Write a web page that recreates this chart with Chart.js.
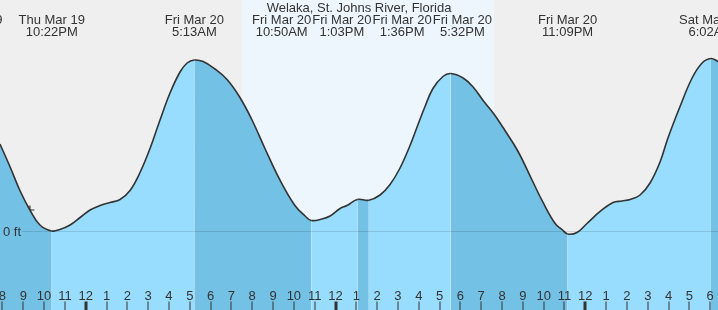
<!DOCTYPE html>
<html><head><meta charset="utf-8">
<script src="https://cdn.jsdelivr.net/npm/chart.js@4/dist/chart.umd.min.js"></script>
<style>html,body{margin:0;padding:0;background:#efefef;overflow:hidden}canvas{display:block}</style>
</head><body>
<canvas id="c" width="718" height="310"></canvas>
<script>
// ---- data (hours measured from Fri Mar 20, 00:00) ----
const chartTitle = 'Welaka, St. Johns River, Florida';
const hours = [-4.12,-3.64,-3.16,-2.68,-2.2,-1.633,-1.24,-0.75,-0.27,0.21,0.69,1.17,1.65,2.13,2.61,3.09,3.57,4.05,4.53,4.87,5.217,5.64,6.21,6.79,7.41,7.99,8.61,9.33,10.05,10.54,10.833,11.35,11.74,12.22,12.55,13.05,13.6,14.14,14.62,15.1,15.58,15.91,16.3,16.68,17.16,17.533,18.13,18.61,19.09,19.61,20.14,20.77,21.44,21.97,22.55,22.88,23.15,23.6,24.08,24.71,25.33,25.76,26.15,26.63,27.11,27.59,27.97,28.55,29.13,29.61,30.033,30.38];
const heights = [0.58,0.43,0.27,0.14,0.04,0.00,0.01,0.04,0.09,0.14,0.17,0.19,0.21,0.27,0.39,0.55,0.74,0.92,1.06,1.12,1.14,1.13,1.08,1.01,0.89,0.74,0.55,0.34,0.17,0.10,0.07,0.08,0.10,0.15,0.17,0.21,0.205,0.24,0.31,0.42,0.57,0.69,0.83,0.95,1.03,1.05,1.02,0.96,0.87,0.78,0.67,0.53,0.34,0.19,0.05,0.01,-0.02,-0.01,0.05,0.13,0.19,0.20,0.21,0.24,0.32,0.46,0.62,0.83,1.02,1.12,1.15,1.13];
const extremeHours = [-5.6,-1.633,5.217,10.833,13.05,13.6,17.533,23.15,30.033];
const extremeTypes = ['H','L','H','L','H','L','H','L','H'];
const extremeDates = ['Thu Mar 19','Thu Mar 19','Fri Mar 20','Fri Mar 20','Fri Mar 20','Fri Mar 20','Fri Mar 20','Fri Mar 20','Sat Mar 21'];
const extremeTimes = ['6:24PM','10:22PM','5:13AM','10:50AM','1:03PM','1:36PM','5:32PM','11:09PM','6:02AM'];
const sunriseHour = 7.5;
const sunsetHour = 19.62;
const tickHours = [-4,-3,-2,-1,0,1,2,3,4,5,6,7,8,9,10,11,12,13,14,15,16,17,18,19,20,21,22,23,24,25,26,27,28,29,30];
const tickLabels = ['8','9','10','11','12','1','2','3','4','5','6','7','8','9','10','11','12','1','2','3','4','5','6','7','8','9','10','11','12','1','2','3','4','5','6'];
const markerHours = [-2.68];
const markerHeights = [0.14];
const zeroLabel = '0 ft';

// ---- styling ----
const FONT = '13px "Liberation Sans", Arial, sans-serif';
const NIGHT = '#efefef', DAY = '#eef6fd';
const RISE = '#98ddfe', FALL = '#74c1e6';
const INK = '#333333';

function isFalling(t){
  let last = null;
  for (let i=0;i<extremeHours.length;i++){ if (extremeHours[i] <= t) last = extremeTypes[i]; }
  if (last === null) return extremeTypes[0] === 'L';
  return last === 'H';
}

const decor = {
  id:'decor',
  beforeDraw(chart){
    const {ctx, scales:{x}} = chart;
    ctx.save();
    ctx.fillStyle = NIGHT; ctx.fillRect(0,0,chart.width,chart.height);
    const xs = x.getPixelForValue(sunriseHour), xe = x.getPixelForValue(sunsetHour);
    ctx.fillStyle = DAY; ctx.fillRect(xs,0,xe-xs,chart.height);
    ctx.restore();
  },
  afterDatasetsDraw(chart){
    const {ctx, scales:{x,y}} = chart;
    ctx.save();
    ctx.font = FONT;
    // zero line + label
    const y0 = Math.round(y.getPixelForValue(0)) + 0.5;
    ctx.strokeStyle = 'rgba(0,0,0,0.12)'; ctx.lineWidth = 1;
    ctx.beginPath(); ctx.moveTo(22,y0); ctx.lineTo(chart.width,y0); ctx.stroke();
    ctx.fillStyle = INK; ctx.textAlign='left'; ctx.textBaseline='alphabetic';
    ctx.fillText(zeroLabel, 3, y0+4.5);
    // hour ticks
    ctx.textAlign='center';
    const H = chart.height;
    tickHours.forEach((h,i)=>{
      const px = x.getPixelForValue(h);
      const major = tickLabels[i]==='12';
      ctx.fillStyle = INK;
      if (major) ctx.fillRect(Math.round(px)-1.5, H-8.5, 3, 8.5);
      else ctx.fillRect(Math.round(px)-0.5, H-8.5, 1, 8.5);
      ctx.fillText(tickLabels[i], px, H-10);
    });
    // extreme labels with non-overlap layout
    let items = extremeHours.map((h,i)=>({
      x: x.getPixelForValue(h),
      w: Math.max(ctx.measureText(extremeDates[i]).width, ctx.measureText(extremeTimes[i]).width)+1,
      i
    })).sort((a,b)=>a.x-b.x);
    let clusters = items.map(it=>({items:[it]}));
    const calc = c => { const W=c.items.reduce((s,it)=>s+it.w,0); const m=c.items.reduce((s,it)=>s+it.x,0)/c.items.length; c.left=m-W/2; c.right=m+W/2; };
    clusters.forEach(calc);
    let changed = true;
    while(changed){
      changed=false;
      for(let k=1;k<clusters.length;k++){
        if (clusters[k-1].right > clusters[k].left){
          clusters[k-1].items = clusters[k-1].items.concat(clusters[k].items);
          clusters.splice(k,1); calc(clusters[k-1]); changed=true; break;
        }
      }
    }
    ctx.fillStyle = INK; ctx.textAlign='center';
    clusters.forEach(c=>{
      let cx = c.left;
      c.items.forEach(it=>{
        const center = cx + it.w/2;
        ctx.fillText(extremeDates[it.i], center, 24);
        ctx.fillText(extremeTimes[it.i], center, 36);
        cx += it.w;
      });
    });
    // title
    ctx.fillText(chartTitle, chart.width/2, 12);
    ctx.restore();
  }
};

new Chart(document.getElementById('c'), {
  type:'line',
  data:{
    datasets:[
      {
        data: hours.map((h,i)=>({x:h, y:heights[i]})),
        borderColor: INK, borderWidth: 1.6, pointRadius: 0,
        fill: 'start', backgroundColor: RISE,
        tension: 0.4,
        segment:{ backgroundColor: c => isFalling((hours[c.p0DataIndex]+hours[c.p1DataIndex])/2) ? FALL : RISE }
      },
      {
        data: markerHours.map((h,i)=>({x:h, y:markerHeights[i]})),
        showLine:false, fill:false, pointStyle:'cross', pointRadius:4.5,
        borderColor: INK, borderWidth:1.2, backgroundColor: INK
      }
    ]
  },
  options:{
    responsive:false, animation:false, devicePixelRatio:1,
    layout:{padding:0, autoPadding:false},
    plugins:{legend:{display:false}, tooltip:{enabled:false}},
    scales:{
      x:{type:'linear', min:-4.117, max:30.374, display:false},
      y:{type:'linear', min:-0.5267, max:1.54, display:false}
    }
  },
  plugins:[decor]
});
</script>
</body></html>
